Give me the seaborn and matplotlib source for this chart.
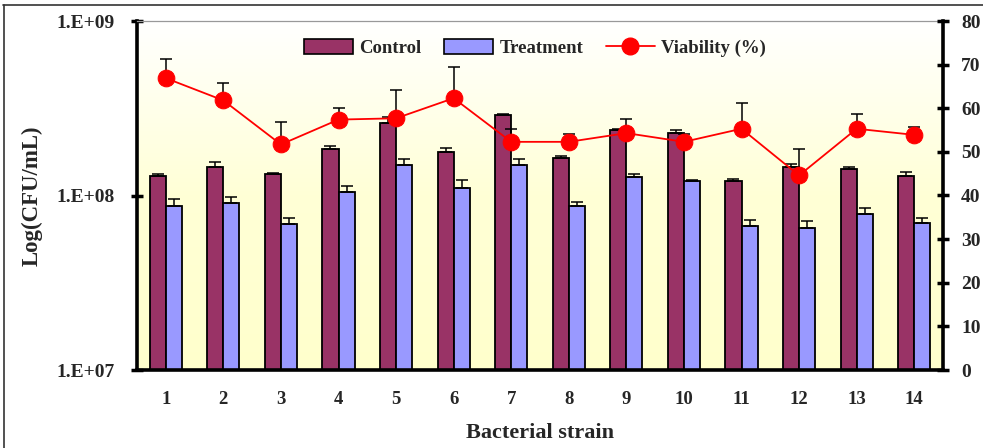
import numpy as np
import pandas as pd
import matplotlib
matplotlib.use("Agg")
import matplotlib.pyplot as plt
import seaborn as sns
from matplotlib.lines import Line2D
from matplotlib.patches import Patch
from matplotlib.colors import LinearSegmentedColormap

# ---- data ----
strains = ["1", "2", "3", "4", "5", "6", "7", "8", "9", "10", "11", "12", "13", "14"]
control = [1.30e8, 1.46e8, 1.33e8, 1.84e8, 2.60e8, 1.77e8, 2.91e8,
           1.64e8, 2.37e8, 2.28e8, 1.21e8, 1.46e8, 1.41e8, 1.30e8]
control_err = [0.03e8, 0.09e8, 0.02e8, 0.07e8, 0.21e8, 0.11e8, 0.04e8,
               0.04e8, 0.04e8, 0.09e8, 0.04e8, 0.06e8, 0.05e8, 0.07e8]
treatment = [0.866e8, 0.90e8, 0.687e8, 1.05e8, 1.49e8, 1.11e8, 1.49e8,
             0.866e8, 1.28e8, 1.21e8, 0.673e8, 0.647e8, 0.787e8, 0.70e8]
treatment_err = [0.084e8, 0.075e8, 0.053e8, 0.09e8, 0.13e8, 0.12e8, 0.12e8,
                 0.054e8, 0.05e8, 0.01e8, 0.052e8, 0.063e8, 0.063e8, 0.043e8]
viability = [66.9, 61.8, 51.7, 57.4, 57.7, 62.3, 52.3, 52.3, 54.3, 52.3, 55.3, 44.6, 55.3, 53.9]
viability_err = [4.5, 3.9, 5.2, 2.6, 6.4, 7.1, 2.9, 1.9, 3.3, 1.7, 6.0, 6.0, 3.3, 1.7]
y_ticks_left = [1e7, 1e8, 1e9]
y_ticklabels_left = ["1.E+07", "1.E+08", "1.E+09"]
y_ticks_right = [0, 10, 20, 30, 40, 50, 60, 70, 80]

sns.set_theme(style="white")
plt.rcParams["font.family"] = ["Liberation Serif", "DejaVu Serif"]
plt.rcParams["font.weight"] = "bold"

df = pd.DataFrame({
    "strain": strains * 2,
    "value": control + treatment,
    "group": ["Control"] * len(strains) + ["Treatment"] * len(strains),
})

C_CTRL = "#993366"
C_TRT = "#9999FF"

fig = plt.figure(figsize=(9.83, 4.48), dpi=100)
fig.patch.set_facecolor("white")
ax = fig.add_axes([137 / 983, (448 - 370) / 448, (943 - 137) / 983, 349 / 448])

# background gradient
cmap = LinearSegmentedColormap.from_list("bg", ["#FFFFFF", "#FFFFD6", "#FFFFCC"])
grad = np.linspace(0, 1, 256).reshape(-1, 1)
ax.imshow(grad, cmap=cmap, aspect="auto", extent=[0, 1, 0, 1],
          transform=ax.transAxes, zorder=0, origin="upper")

sns.barplot(data=df, x="strain", y="value", hue="group", order=strains,
            hue_order=["Control", "Treatment"], palette=[C_CTRL, C_TRT],
            width=0.56, errorbar=None, edgecolor="black", linewidth=1.3,
            saturation=1, legend=False, ax=ax, zorder=2)
ax.set_yscale("log")

errs = [control_err, treatment_err]
vals = [control, treatment]
for cont, v, e in zip(ax.containers, vals, errs):
    xs = [p.get_x() + p.get_width() / 2 for p in cont]
    ax.errorbar(xs, v, yerr=[np.zeros(len(e)), e], fmt="none", ecolor="black",
                elinewidth=1.1, capsize=4.5, capthick=1.1, zorder=3)

ax.set_ylim(1e7, 1e9)
ax.set_xlim(-0.5, 13.5)
ax.set_yticks(y_ticks_left)
ax.set_yticklabels(y_ticklabels_left)
ax.yaxis.set_minor_locator(matplotlib.ticker.NullLocator())
ax.set_xticks(range(len(strains)))
ax.set_xticklabels(strains)
ax.set_xticks(np.arange(0.5, 13, 1), minor=True)
ax.tick_params(axis="x", which="major", length=0, pad=15, labelsize=13.5)
ax.tick_params(axis="x", which="minor", direction="in", length=5, width=2.5, color="black")
ax.tick_params(axis="y", which="major", direction="inout", length=8, width=2.5,
               color="black", labelsize=14, pad=12)
for lab in ax.get_xticklabels() + ax.get_yticklabels():
    lab.set_fontweight("bold")
ax.set_xlabel("Bacterial strain", fontsize=16, fontweight="bold")
ax.xaxis.set_label_coords(0.5, -0.152)
ax.set_ylabel("Log(CFU/mL)", fontsize=16.5, fontweight="bold")
ax.yaxis.set_label_coords(-0.117, 0.5)

for s in ["left", "bottom"]:
    ax.spines[s].set_color("black")
    ax.spines[s].set_linewidth(2.6)
ax.spines["right"].set_visible(False)
ax.spines["top"].set_color("#999999")
ax.spines["top"].set_linewidth(0.9)

# viability on secondary axis
ax2 = ax.twinx()
xpos = np.arange(len(strains))
ax2.errorbar(xpos, viability, yerr=[np.zeros(len(viability_err)), viability_err],
             fmt="none", ecolor="black", elinewidth=1.1, capsize=4.5, capthick=1.1, zorder=2)
sns.lineplot(x=xpos, y=viability, ax=ax2, color="#FF0000", linewidth=1.3,
             marker="o", markersize=12, markeredgecolor="#FF0000",
             markerfacecolor="#FF0000", zorder=3)
ax2.set_ylim(0, 80)
ax2.set_yticks(y_ticks_right)
ax2.tick_params(axis="y", which="major", direction="inout", length=8, width=2.5,
                color="black", labelsize=14, pad=9)
for lab in ax2.get_yticklabels():
    lab.set_fontweight("bold")
for s in ["left", "bottom", "top"]:
    ax2.spines[s].set_visible(False)
ax2.spines["right"].set_color("black")
ax2.spines["right"].set_linewidth(2.6)
ax2.set_ylabel("")
ax2.grid(False)
ax.grid(False)

handles = [
    Patch(facecolor=C_CTRL, edgecolor="black", linewidth=1.2, label="Control"),
    Patch(facecolor=C_TRT, edgecolor="black", linewidth=1.2, label="Treatment"),
    Line2D([0], [0], color="#FF0000", marker="o", markersize=12, linewidth=1.3,
           label="Viability (%)"),
]
leg = ax2.legend(handles=handles, loc="center", bbox_to_anchor=(0.494, 0.923),
                 ncol=3, frameon=False, prop={"weight": "bold", "size": 13.5},
                 handlelength=2.6, handleheight=0.85, columnspacing=1.2, handletextpad=0.35)

# outer frame
fig.add_artist(Line2D([3 / 983, 1], [1 - 5 / 448, 1 - 5 / 448], color="#333333", linewidth=1.2,
                      transform=fig.transFigure))
fig.add_artist(Line2D([4 / 983, 4 / 983], [0, 1 - 5 / 448], color="#333333", linewidth=1.2,
                      transform=fig.transFigure))

fig.savefig("out.png", dpi=100)
